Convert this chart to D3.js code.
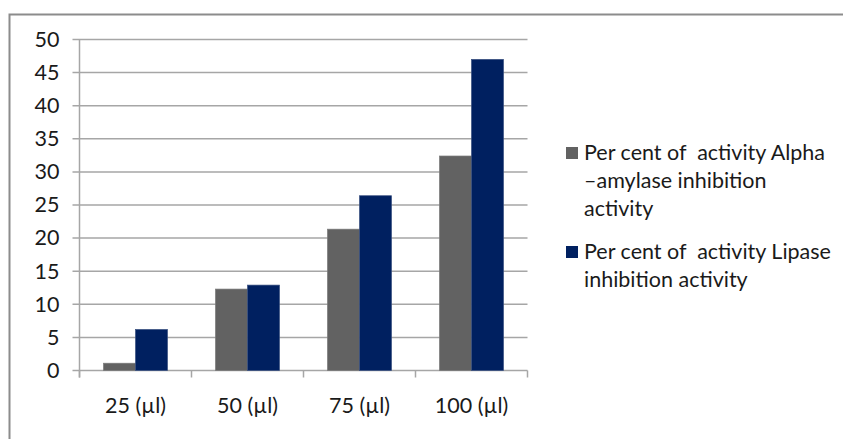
<!DOCTYPE html>
<html><head><meta charset="utf-8">
<script src="https://cdn.jsdelivr.net/npm/d3@7"></script>
<style>body{margin:0;background:#fff}svg{display:block}text{white-space:pre}</style>
</head><body>
<script>
const categories = ["25 (µl)", "50 (µl)", "75 (µl)", "100 (µl)"];
const alphaAmylase = [1.1, 12.3, 21.35, 32.4];
const lipase = [6.2, 12.9, 26.4, 47.0];
const yTicks = [0, 5, 10, 15, 20, 25, 30, 35, 40, 45, 50];
const seriesNames = [
  ["Per cent of  activity Alpha", "\u2013amylase inhibition", "activity"],
  ["Per cent of  activity Lipase", "inhibition activity"]
];
const colors = ["#626262", "#002060"];

(function () {
const W = 843, H = 439;
const font = "Lato, 'Liberation Sans', sans-serif";
const fs = 21.5;
const svg = d3.select("body").append("svg").attr("width", W).attr("height", H);

// outer chart border
svg.append("path").attr("d", `M9.5,${H} V14.5 H${W}`)
  .attr("fill", "none").attr("stroke", "#8c8c8c").attr("stroke-width", 2);

const pl = 79.5, pr = 527.5, pt = 39.5, pb = 370.5;
const x = d3.scaleBand().domain(categories).range([pl, pr]).paddingInner(0).paddingOuter(0);
const y = d3.scaleLinear().domain([0, 50]).range([pb, pt]);

// gridlines
svg.append("g").selectAll("line").data(yTicks).join("line")
  .attr("x1", pl - 7).attr("x2", pr)
  .attr("y1", d => y(d)).attr("y2", d => y(d))
  .attr("stroke", "#a6a6a6").attr("stroke-width", 1.5);

// y axis
const yAxis = d3.axisLeft(y).tickValues(yTicks).tickSize(0).tickPadding(13);
const ya = svg.append("g").attr("transform", `translate(${pl - 7},0)`).call(yAxis);
ya.select(".domain").remove();
ya.selectAll("text").attr("font-family", font).attr("font-size", fs).attr("fill", "#1a1a1a");
svg.append("line").attr("x1", pl).attr("x2", pl).attr("y1", pt).attr("y2", pb + 7)
  .attr("stroke", "#a6a6a6").attr("stroke-width", 1.5);

// x axis labels
const xa = svg.append("g").attr("transform", `translate(0,${pb})`)
  .call(d3.axisBottom(x).tickSize(0).tickPadding(27));
xa.select(".domain").remove();
xa.selectAll("text").attr("font-family", font).attr("font-size", fs).attr("fill", "#1a1a1a");
const boundaries = categories.map(c => x(c)).concat([pr]);
svg.append("g").selectAll("line").data(boundaries).join("line")
  .attr("x1", d => d).attr("x2", d => d).attr("y1", pb).attr("y2", pb + 7)
  .attr("stroke", "#a6a6a6").attr("stroke-width", 1.5);

// bars
const bw = x.bandwidth() / 3.5;
const data = categories.map((c, i) => ({c, vals: [alphaAmylase[i], lipase[i]]}));
const grp = svg.append("g").selectAll("g").data(data).join("g")
  .attr("transform", d => `translate(${x(d.c) + x.bandwidth() / 2 - bw},0)`);
grp.selectAll("rect").data(d => d.vals).join("rect")
  .attr("x", (d, i) => i * bw).attr("width", bw)
  .attr("y", d => y(d)).attr("height", d => y(0) - y(d))
  .attr("fill", (d, i) => colors[i])
  .attr("stroke", (d, i) => i ? "#3a5080" : "#7a7a7a").attr("stroke-width", 0.7);

// legend
const legendTops = [153, 252];
const lg = svg.append("g").attr("font-family", font).attr("font-size", fs).attr("fill", "#1a1a1a");
seriesNames.forEach((lines, i) => {
  lg.append("rect").attr("x", 566).attr("y", legendTops[i] - 6).attr("width", 12).attr("height", 12)
    .attr("fill", colors[i]);
  const t = lg.append("text").attr("x", 584).attr("y", legendTops[i] + 7);
  lines.forEach((l, j) => t.append("tspan").attr("x", 584).attr("dy", j ? 28 : 0).text(l));
});
})();
</script>
</body></html>
